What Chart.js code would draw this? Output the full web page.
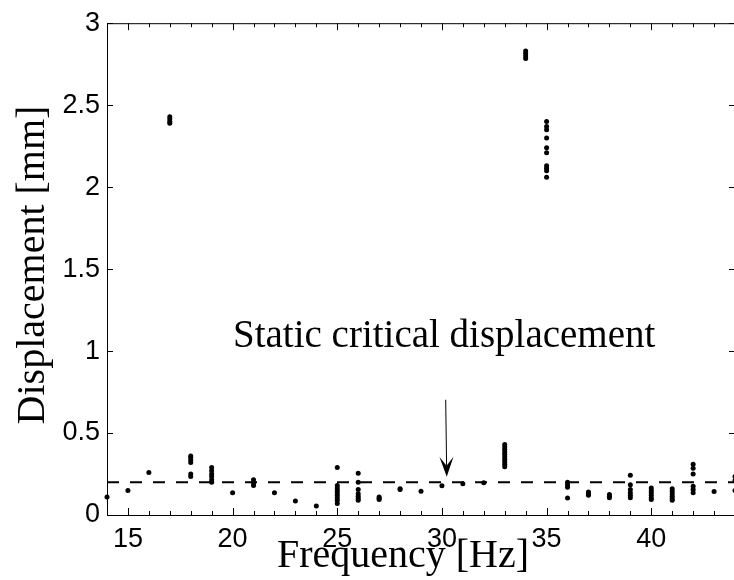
<!DOCTYPE html>
<html>
<head>
<meta charset="utf-8">
<script src="https://cdn.jsdelivr.net/npm/chart.js@4"></script>
<style>
  html, body { margin: 0; padding: 0; background: #ffffff; overflow: hidden; }
  #wrap { position: absolute; left: 0; top: 0; width: 740px; height: 580px; }
</style>
</head>
<body>
<div id="wrap"><canvas id="dispChart" width="740" height="580"></canvas></div>
<script>
// measured displacement per excitation frequency
const frequencies = [14, 15, 16, 17, 18, 19, 20, 21, 22, 23, 24, 25, 26, 27, 28,
                     29, 30, 31, 32, 33, 34, 35, 36, 37, 38, 39, 40, 41, 42, 43, 44];
const displacements = [
    [0.11],
    [0.15],
    [0.26],
    [2.43, 2.415, 2.40, 2.39],
    [0.36, 0.35, 0.335, 0.32, 0.25, 0.235],
    [0.29, 0.27, 0.25, 0.235, 0.215, 0.2],
    [0.135],
    [0.215, 0.195, 0.18],
    [0.135],
    [0.085],
    [0.055],
    [0.29, 0.18, 0.165, 0.15, 0.135, 0.12, 0.105, 0.09, 0.07],
    [0.255, 0.2, 0.155, 0.13, 0.115, 0.1, 0.09],
    [0.11, 0.1, 0.095],
    [0.16, 0.155],
    [0.145],
    [0.178],
    [0.19],
    [0.197],
    [0.43, 0.415, 0.40, 0.385, 0.37, 0.355, 0.34, 0.325, 0.31, 0.295],
    [2.83, 2.815, 2.80, 2.785],
    [2.40, 2.37, 2.35, 2.30, 2.24, 2.21, 2.13, 2.115, 2.10, 2.06],
    [0.2, 0.185, 0.17, 0.103],
    [0.14, 0.13, 0.12],
    [0.125, 0.115, 0.105],
    [0.243, 0.185, 0.155, 0.135, 0.12, 0.105],
    [0.165, 0.15, 0.135, 0.12, 0.105, 0.095],
    [0.16, 0.145, 0.13, 0.115, 0.1, 0.09],
    [0.31, 0.285, 0.25, 0.175, 0.155, 0.135],
    [0.143],
    [0.235, 0.21, 0.15]
];

const criticalDisp = 0.2;
const xTicks = [15, 20, 25, 30, 35, 40];
const yTicks = [0, 0.5, 1, 1.5, 2, 2.5, 3];

const noteText = 'Static critical displacement';
const notePos = [20.02, 1.023];
const arrowFrom = [30.18, 0.703];
const arrowTo = [30.23, 0.233];

const xTitle = 'Frequency [Hz]';
const yTitle = 'Displacement [mm]';

const scatterPoints = [];
frequencies.forEach((f, i) => {
    displacements[i].forEach(d => scatterPoints.push({ x: f, y: d }));
});

const serif = '"Liberation Serif", "Times New Roman", serif';
const sans = '"Liberation Sans", Arial, sans-serif';

// frame with inward ticks, arrow and text labels
const framePlugin = {
    id: 'frame',
    afterDraw(chart) {
        const ctx = chart.ctx;
        const xs = chart.scales.x;
        const ys = chart.scales.y;
        const a = chart.chartArea;

        ctx.save();
        ctx.strokeStyle = '#000';
        ctx.lineWidth = 1;
        ctx.beginPath();
        ctx.rect(a.left + 0.5, a.top + 0.5, a.right - a.left, a.bottom - a.top);
        ctx.stroke();

        ctx.beginPath();
        for (let f = xs.min; f <= xs.max; f++) {
            const px = Math.round(xs.getPixelForValue(f)) + 0.5;
            const len = xTicks.includes(f) ? 7 : 4;
            ctx.moveTo(px, a.bottom);
            ctx.lineTo(px, a.bottom - len);
            ctx.moveTo(px, a.top);
            ctx.lineTo(px, a.top + len);
        }
        yTicks.forEach(v => {
            const py = Math.round(ys.getPixelForValue(v)) + 0.5;
            ctx.moveTo(a.left, py);
            ctx.lineTo(a.left + 6, py);
            ctx.moveTo(a.right, py);
            ctx.lineTo(a.right - 6, py);
        });
        ctx.stroke();

        // arrow pointing at the critical line
        const x1 = xs.getPixelForValue(arrowFrom[0]);
        const y1 = ys.getPixelForValue(arrowFrom[1]);
        const x2 = xs.getPixelForValue(arrowTo[0]);
        const y2 = ys.getPixelForValue(arrowTo[1]);
        const ang = Math.atan2(y2 - y1, x2 - x1);
        const ux = Math.cos(ang), uy = Math.sin(ang);
        const headLen = 20, headHalf = 7, notch = 11;
        ctx.beginPath();
        ctx.moveTo(x1, y1);
        ctx.lineTo(x2 - ux * notch, y2 - uy * notch);
        ctx.stroke();
        ctx.fillStyle = '#000';
        ctx.beginPath();
        ctx.moveTo(x2, y2);
        ctx.lineTo(x2 - ux * headLen - uy * headHalf, y2 - uy * headLen + ux * headHalf);
        ctx.lineTo(x2 - ux * notch, y2 - uy * notch);
        ctx.lineTo(x2 - ux * headLen + uy * headHalf, y2 - uy * headLen - ux * headHalf);
        ctx.closePath();
        ctx.fill();

        ctx.font = '39px ' + serif;
        ctx.textAlign = 'left';
        ctx.textBaseline = 'alphabetic';
        ctx.fillText(noteText, xs.getPixelForValue(notePos[0]), ys.getPixelForValue(notePos[1]));

        ctx.font = '40px ' + serif;
        ctx.textAlign = 'center';
        ctx.fillText(xTitle, 403, 567);

        ctx.translate(44, 265);
        ctx.rotate(-Math.PI / 2);
        ctx.fillText(yTitle, 0, 0);
        ctx.restore();
    }
};

const ctx = document.getElementById('dispChart').getContext('2d');
const dispChart = new Chart(ctx, {
    type: 'scatter',
    data: {
        datasets: [
            {
                type: 'line',
                data: [{ x: frequencies[0], y: criticalDisp },
                       { x: frequencies[frequencies.length - 1], y: criticalDisp }],
                borderColor: '#000',
                borderWidth: 2,
                borderDash: [12, 11],
                pointRadius: 0,
                fill: false
            },
            {
                data: scatterPoints,
                backgroundColor: '#000',
                borderWidth: 0,
                pointRadius: 2.5,
                clip: false
            }
        ]
    },
    options: {
        responsive: false,
        animation: false,
        events: [],
        layout: { padding: { left: 0, top: 16, right: 5, bottom: 0 } },
        plugins: {
            legend: { display: false },
            tooltip: { enabled: false }
        },
        scales: {
            x: {
                type: 'linear',
                min: 14,
                max: 44,
                afterFit(scale) { scale.height = 65; },
                afterBuildTicks(scale) { scale.ticks = xTicks.map(v => ({ value: v })); },
                grid: { display: false, drawTicks: false },
                border: { display: false },
                ticks: {
                    padding: 8,
                    color: '#000',
                    maxRotation: 0,
                    autoSkip: false,
                    font: { family: sans, size: 27 }
                }
            },
            y: {
                type: 'linear',
                min: 0,
                max: 3,
                afterFit(scale) { scale.width = 107; },
                afterBuildTicks(scale) { scale.ticks = yTicks.map(v => ({ value: v })); },
                grid: { display: false, drawTicks: false },
                border: { display: false },
                ticks: {
                    padding: 7,
                    color: '#000',
                    font: { family: sans, size: 27 },
                    callback: v => String(v)
                }
            }
        }
    },
    plugins: [framePlugin]
});
</script>
</body>
</html>
